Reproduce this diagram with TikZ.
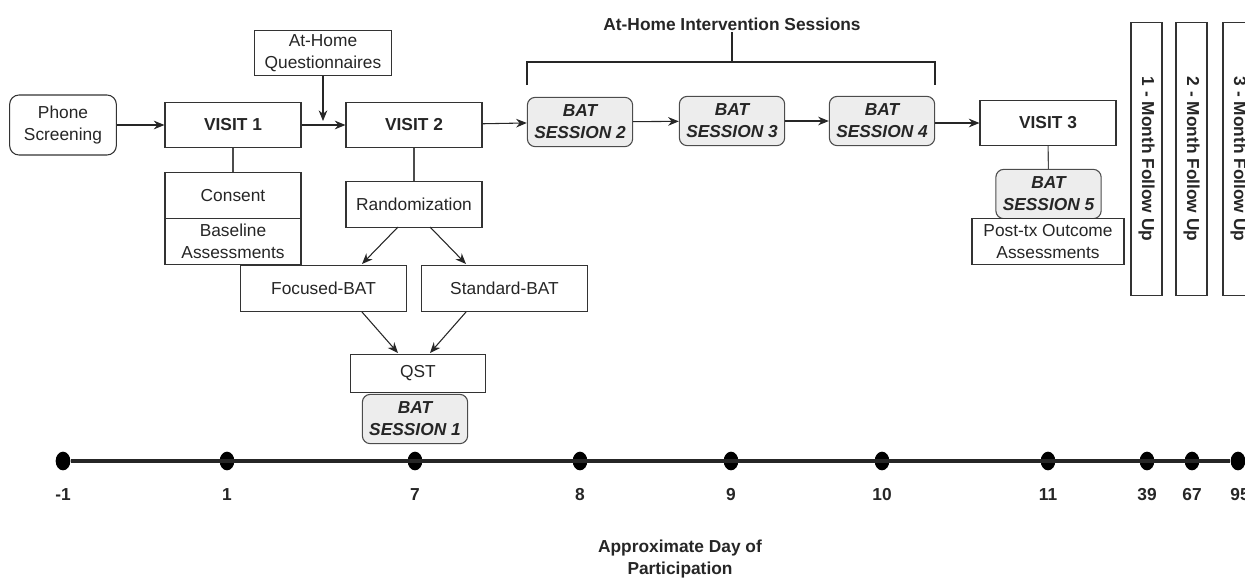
\documentclass[tikz,border=0pt]{standalone}
\usepackage{fontspec}
\setmainfont{Liberation Sans}
\usetikzlibrary{arrows.meta,shapes.geometric}

\begin{document}
\begin{tikzpicture}[x=0.75pt, y=-0.75pt,
    every node/.style={font=\fontsize{13}{16.5}\selectfont, text=black!85, align=center, inner sep=1pt},
    box/.style={draw=black!80, line width=0.8pt, fill=white},
    boldbox/.style={box, font=\fontsize{13}{16.5}\selectfont\bfseries},
    batbox/.style={draw=black!70, line width=0.8pt, fill=black!7, rounded corners=6pt,
        minimum width=79pt, minimum height=37pt, font=\fontsize{13}{16.5}\selectfont\bfseries\itshape},
    followbar/.style={box, rotate=-90, minimum width=205pt, minimum height=23.25pt,
        font=\fontsize{13}{16.5}\selectfont\bfseries},
    arr/.style={-{Stealth[length=8pt,width=6.5pt]}, line width=0.8pt, black!85},
    link/.style={line width=0.8pt, black!70},
    bracket/.style={line width=2pt, black!85},
    daydot/.style={ellipse, fill=black, minimum width=11pt, minimum height=14pt, inner sep=0pt},
    daylabel/.style={font=\fontsize{13}{16.5}\selectfont\bfseries}]
    \useasboundingbox (0,0) rectangle (1245,582);
    \clip (0,0) rectangle (1245,582);

    \node (phone) at (63,125) [box, rounded corners=7pt, minimum width=80pt, minimum height=45pt] {Phone\\Screening};
    \node (visit1) at (233,125) [boldbox, minimum width=102pt, minimum height=34pt] {VISIT 1};
    \node (quest) at (323,53) [box, minimum width=103pt, minimum height=34pt] {At-Home\\Questionnaires};
    \node (visit2) at (414,125) [boldbox, minimum width=102pt, minimum height=34pt] {VISIT 2};
    \node (bat2) at (580,122) [batbox] {BAT\\SESSION 2};
    \node (bat3) at (732,121) [batbox] {BAT\\SESSION 3};
    \node (bat4) at (882,121) [batbox] {BAT\\SESSION 4};
    \node (visit3) at (1048,123) [boldbox, minimum width=102pt, minimum height=34pt] {VISIT 3};
    \node (intv) at (732,24) [font=\fontsize{13}{16.5}\selectfont\bfseries] {At-Home Intervention Sessions};

    \node (consent) at (233,195.5) [box, minimum width=102pt, minimum height=34pt] {Consent};
    \node (baseline) at (233,241.5) [box, minimum width=102pt, minimum height=35pt] {Baseline\\Assessments};
    \node (random) at (414,204.5) [box, minimum width=102pt, minimum height=34pt] {Randomization};
    \node (focused) at (323.5,288.5) [box, minimum width=124pt, minimum height=35pt] {Focused-BAT};
    \node (standard) at (504.5,288.5) [box, minimum width=124pt, minimum height=35pt] {Standard-BAT};
    \node (qst) at (418,373.5) [box, minimum width=101pt, minimum height=29pt] {QST};
    \node (bat1) at (415,419) [batbox] {BAT\\SESSION 1};

    \node (bat5) at (1048.5,194) [batbox] {BAT\\SESSION 5};
    \node (posttx) at (1048,241.5) [box, minimum width=114pt, minimum height=35pt] {Post-tx Outcome\\Assessments};

    \node (follow1) at (1146.5,159) [followbar] {1 - Month Follow Up};
    \node (follow2) at (1191.5,159) [followbar] {2 - Month Follow Up};
    \node (follow3) at (1238.5,159) [followbar] {3 - Month Follow Up};

    \draw[arr] (phone) -- (visit1);
    \draw[arr] (visit1) -- (visit2);
    \coordinate (qend) at (323,121);
    \draw[arr] (quest) -- (qend);
    \draw[arr] (visit2) -- (bat2);
    \draw[arr] (bat2) -- (bat3);
    \draw[arr] (bat3) -- (bat4);
    \draw[arr] (bat4.east |- visit3.west) -- (visit3);

    \draw[bracket] (527,85) -- (527,62) -- (935,62) -- (935,85);
    \draw[bracket] (732,62) -- (intv.south);

    \draw[link] (visit1) -- (consent);
    \draw[link] (visit2) -- (random);
    \draw[link] (visit3) -- (bat5);

    \draw[arr] (398,227) -- (362,264);
    \draw[arr] (430,227) -- (466,264);
    \draw[arr] (362,312) -- (398,353);
    \draw[arr] (466,312) -- (430,353);

    \foreach \d/\x in {1/63, 2/227, 3/415, 4/580, 5/731, 6/882, 7/1048, 8/1147, 9/1192, 10/1238}
        \node (day\d) at (\x,461) [daydot] {};
    \draw[line width=3pt, black!85] (day1) -- (day10);
    \foreach \d/\x/\lab in {1/63/-1, 2/227/1, 3/415/7, 4/580/8, 5/731/9, 6/882/10, 7/1048/11, 8/1147/39, 9/1192/67, 10/1240/95}
        \node (lab\d) at (\x,495) [daylabel] {\lab};

    \node (axis) at (680,559) [font=\fontsize{13}{17}\selectfont\bfseries] {Approximate Day of\\Participation};
\end{tikzpicture}
\end{document}
